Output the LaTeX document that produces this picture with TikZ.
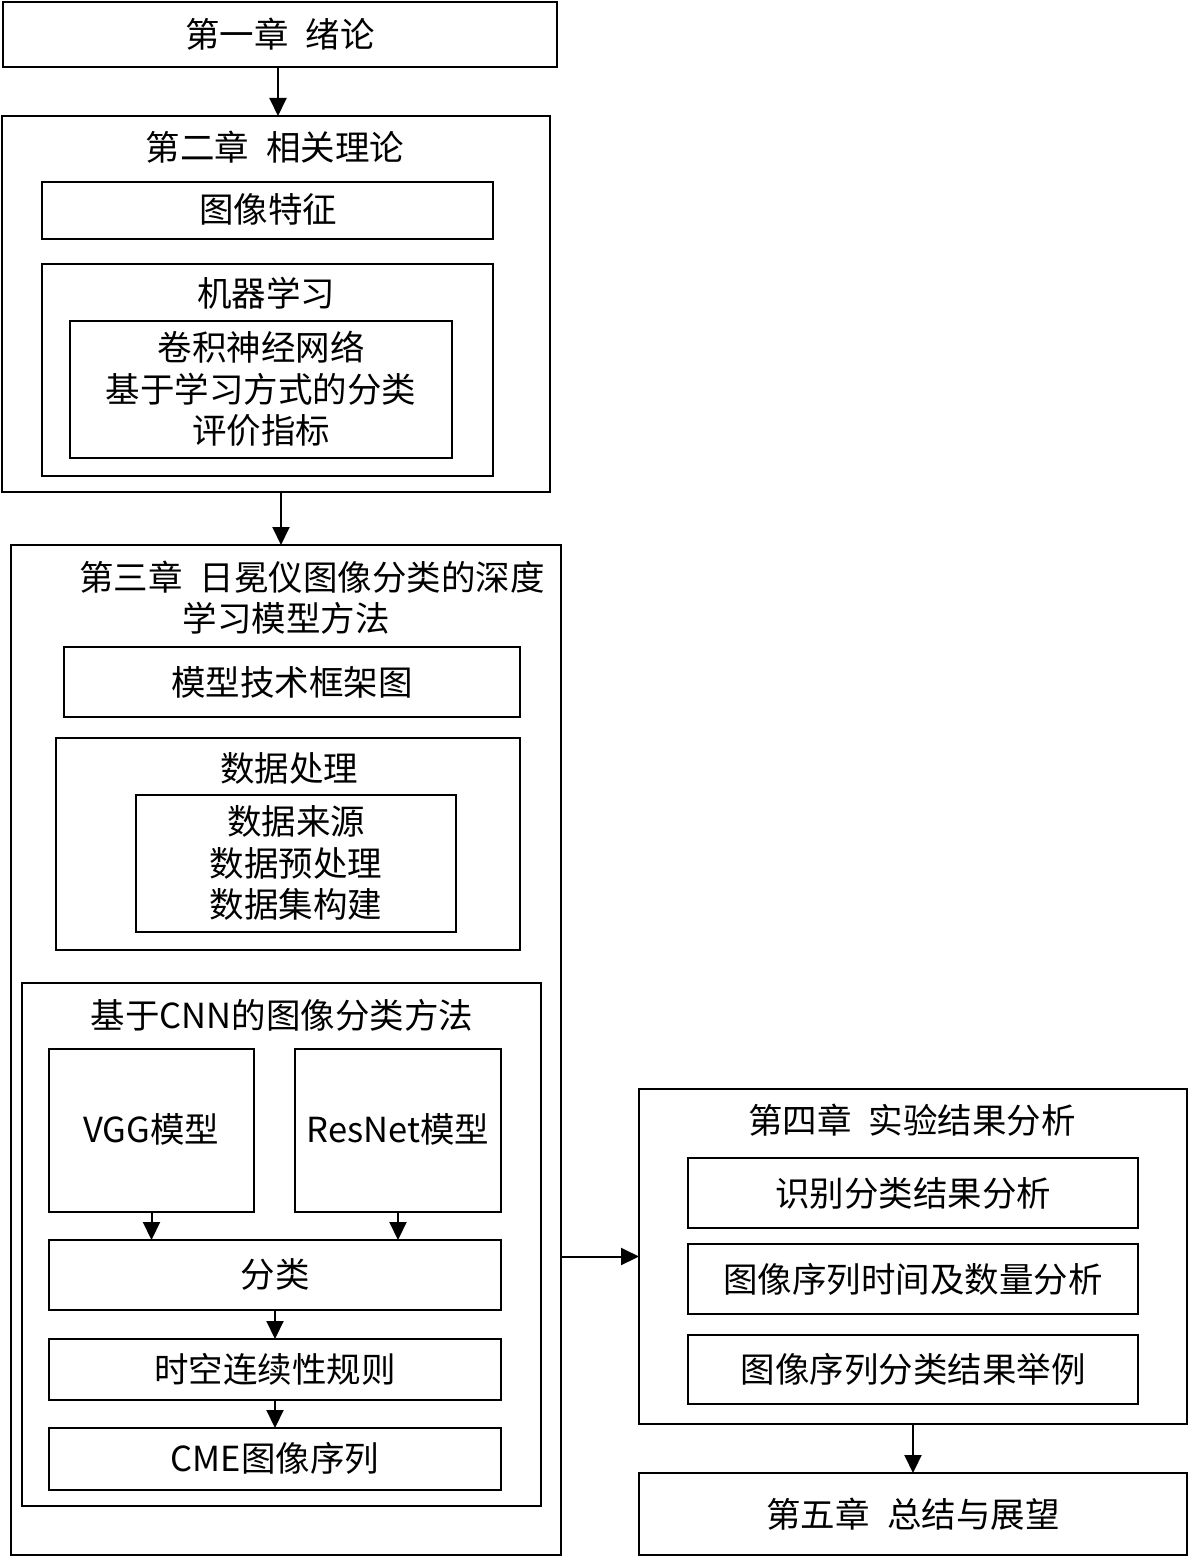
\documentclass[tikz,border=0pt]{standalone}
\usepackage{fontspec}
\setmainfont{Noto Sans CJK SC}
\usetikzlibrary{arrows.meta}
\begin{document}
\begin{tikzpicture}[x=1pt,y=-1pt,
  box/.style={draw, line width=2pt, inner sep=0pt, outer sep=0pt, anchor=north west},
  txt/.style={font=\fontsize{34.5}{41.5}\selectfont, inner sep=0pt, align=center},
  arr/.style={line width=2pt, -{Triangle[width=17pt,length=18pt]}}]
\useasboundingbox (0,0) rectangle (1188,1557);
% chapter 1
\node[box, minimum width=554pt, minimum height=65pt] (b1) at (3,2) {};
\node[txt] (t1) at (280,34) {第一章\hspace{0.5em}绪论};
% chapter 2
\node[box, minimum width=548pt, minimum height=376pt] (b2) at (2,116) {};
\node[txt] (t2) at (275,147) {第二章\hspace{0.5em}相关理论};
\node[box, minimum width=451pt, minimum height=57pt] (b2a) at (42,182) {};
\node[txt] (t2a) at (268,209) {图像特征};
\node[box, minimum width=451pt, minimum height=212pt] (b2b) at (42,264) {};
\node[txt] (t2b) at (266,293) {机器学习};
\node[box, minimum width=382pt, minimum height=137pt] (b2c) at (70,321) {};
\node[txt] (t2c) at (261,389) {卷积神经网络\\基于学习方式的分类\\评价指标};
% chapter 3
\node[box, minimum width=550pt, minimum height=1010pt] (b3) at (11,545) {};
\node[txt] (t3a) at (312,577) {第三章\hspace{0.5em}日冕仪图像分类的深度};
\node[txt] (t3b) at (286,618) {学习模型方法};
\node[box, minimum width=456pt, minimum height=70pt] (b3a) at (64,647) {};
\node[txt] (t3c) at (292,682) {模型技术框架图};
\node[box, minimum width=464pt, minimum height=212pt] (b3b) at (56,738) {};
\node[txt] (t3d) at (289,768) {数据处理};
\node[box, minimum width=320pt, minimum height=137pt] (b3c) at (136,795) {};
\node[txt] (t3e) at (296,863) {数据来源\\数据预处理\\数据集构建};
\node[box, minimum width=519pt, minimum height=523pt] (b3d) at (22,983) {};
\node[txt] (t3f) at (282,1015) {基于CNN的图像分类方法};
\node[box, minimum width=205pt, minimum height=163pt] (vgg) at (49,1049) {};
\node[txt] (tvgg) at (151,1129) {VGG模型};
\node[box, minimum width=206pt, minimum height=163pt] (res) at (295,1049) {};
\node[txt] (tres) at (398,1129) {ResNet模型};
\node[box, minimum width=452pt, minimum height=70pt] (cls) at (49,1240) {};
\node[txt] (tcls) at (275,1274) {分类};
\node[box, minimum width=452pt, minimum height=61pt] (rule) at (49,1339) {};
\node[txt] (trule) at (275,1369) {时空连续性规则};
\node[box, minimum width=452pt, minimum height=62pt] (cme) at (49,1428) {};
\node[txt] (tcme) at (275,1458) {CME图像序列};
% chapter 4
\node[box, minimum width=548pt, minimum height=335pt] (b4) at (639,1089) {};
\node[txt] (t4) at (912,1120) {第四章\hspace{0.5em}实验结果分析};
\node[box, minimum width=450pt, minimum height=70pt] (b4a) at (688,1158) {};
\node[txt] (t4a) at (913,1193) {识别分类结果分析};
\node[box, minimum width=450pt, minimum height=70pt] (b4b) at (688,1244) {};
\node[txt] (t4b) at (913,1279) {图像序列时间及数量分析};
\node[box, minimum width=450pt, minimum height=69pt] (b4c) at (688,1335) {};
\node[txt] (t4c) at (913,1369) {图像序列分类结果举例};
% chapter 5
\node[box, minimum width=548pt, minimum height=82pt] (b5) at (639,1473) {};
\node[txt] (t5) at (913,1514) {第五章\hspace{0.5em}总结与展望};
% arrows
\draw[arr] ([xshift=-2pt]b1.south) -- ([xshift=-2pt]b1.south |- b2.north);
\draw[arr] ([xshift=5pt]b2.south) -- ([xshift=5pt]b2.south |- b3.north);
\draw[arr] (vgg.south) -- (vgg.south |- cls.north);
\draw[arr] (res.south) -- (res.south |- cls.north);
\draw[arr] (cls.south) -- (cls.south |- rule.north);
\draw[arr] (rule.south) -- (rule.south |- cme.north);
\draw[arr] (b3.east |- b4.west) -- (b4.west);
\draw[arr] (b4.south) -- (b4.south |- b5.north);
\end{tikzpicture}
\end{document}
